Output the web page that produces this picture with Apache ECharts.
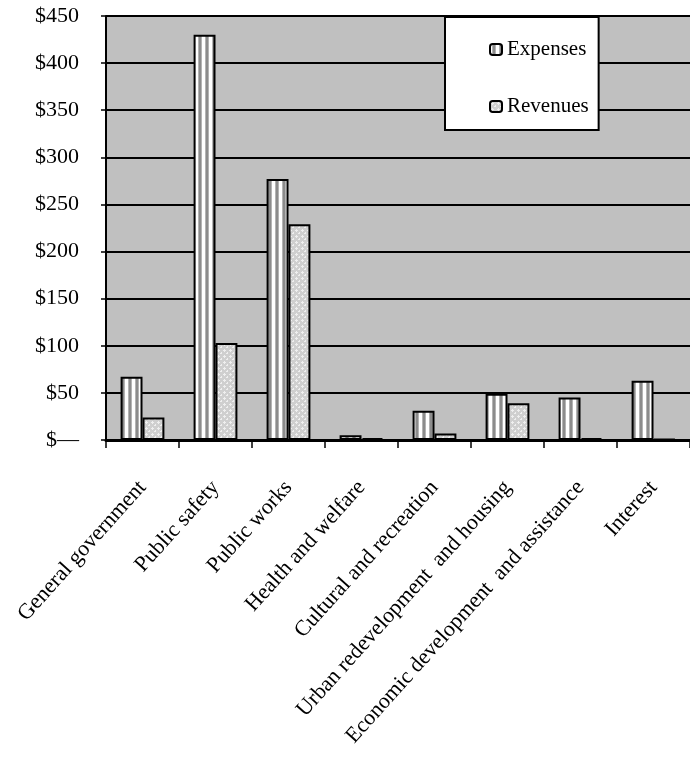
<!DOCTYPE html>
<html>
<head>
<meta charset="utf-8">
<script src="https://cdn.jsdelivr.net/npm/echarts@6/dist/echarts.min.js"></script>
<style>
  html, body { margin: 0; padding: 0; background: #fff; }
  #main { width: 690px; height: 770px; }
</style>
</head>
<body>
<div id="main"></div>
<script>
var categories = ['General government', 'Public safety', 'Public works', 'Health and welfare',
    'Cultural and recreation', 'Urban redevelopment  and housing',
    'Economic development  and assistance', 'Interest'];
var expenses = [67, 430, 277, 5, 31, 49, 45, 63];
var revenues = [24, 103, 229, 2, 7, 39, 2, 1];

// vertical stripe fill for Expenses
function stripes() {
    var c = document.createElement('canvas');
    c.width = 7; c.height = 4;
    var ctx = c.getContext('2d');
    var cols = ['#ffffff', '#ffffff', '#b4b4b4', '#8c8c8c', '#8c8c8c', '#b4b4b4', '#ffffff'];
    for (var i = 0; i < cols.length; i++) {
        ctx.fillStyle = cols[i];
        ctx.fillRect(i, 0, 1, 4);
    }
    return c;
}
// dotted cross fill for Revenues
function crosses() {
    var c = document.createElement('canvas');
    c.width = 6; c.height = 6;
    var ctx = c.getContext('2d');
    ctx.fillStyle = '#cfcfcf';
    ctx.fillRect(0, 0, 6, 6);
    ctx.fillStyle = '#efefef';
    ctx.fillRect(1, 2, 3, 1);
    ctx.fillRect(2, 1, 1, 3);
    ctx.fillRect(4, 5, 2, 1);
    ctx.fillRect(5, 4, 1, 2);
    return c;
}

var font = 'Liberation Serif';
var myChart = echarts.init(document.getElementById('main'));
var option = {
    backgroundColor: '#ffffff',
    animation: false,
    textStyle: { fontFamily: font, color: '#000' },
    grid: {
        left: 106, right: 0, top: 16, bottom: 330,
        show: true, backgroundColor: '#c0c0c0', borderWidth: 0
    },
    legend: {
        orient: 'vertical',
        left: 445, top: 17,
        padding: [22, 10, 13, 44],
        itemGap: 36,
        itemWidth: 12, itemHeight: 11,
        backgroundColor: '#ffffff',
        borderColor: '#000', borderWidth: 2,
        textStyle: { fontFamily: font, fontSize: 21, color: '#000' },
        data: ['Expenses', 'Revenues']
    },
    xAxis: {
        type: 'category',
        data: categories,
        axisLine: { lineStyle: { color: '#000', width: 3 } },
        axisTick: { show: true, interval: 0, length: 8, lineStyle: { color: '#000', width: 1.5 } },
        axisLabel: {
            interval: 0, rotate: 48, margin: 44,
            fontFamily: font, fontSize: 22, color: '#000'
        }
    },
    yAxis: {
        type: 'value',
        min: 0, max: 450, interval: 50,
        axisLine: { show: true, lineStyle: { color: '#000', width: 2 } },
        axisTick: { show: true, length: 5, lineStyle: { color: '#000', width: 1.5 } },
        splitLine: { lineStyle: { color: '#000', width: 2 } },
        axisLabel: {
            margin: 27, fontFamily: font, fontSize: 22, color: '#000',
            formatter: function (v) { return v === 0 ? '$\u2014' : '$' + v; }
        }
    },
    series: [
        {
            name: 'Expenses', type: 'bar',
            barGap: '0%', barCategoryGap: '40%',
            itemStyle: { color: { image: stripes(), repeat: 'repeat' }, borderColor: '#000', borderWidth: 2 },
            data: expenses
        },
        {
            name: 'Revenues', type: 'bar',
            itemStyle: { color: { image: crosses(), repeat: 'repeat' }, borderColor: '#000', borderWidth: 2 },
            data: revenues
        }
    ]
};
myChart.setOption(option);
</script>
</body>
</html>
